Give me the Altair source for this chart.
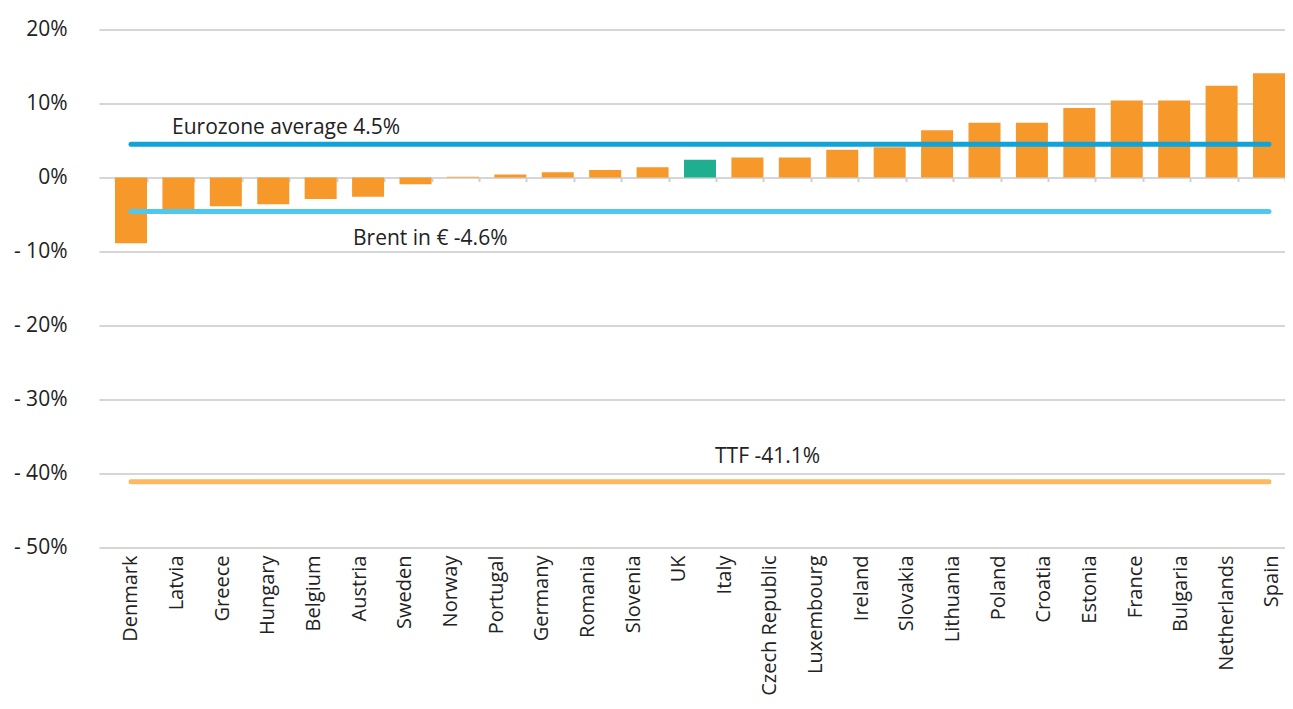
import altair as alt
import pandas as pd

# ---- data ----
countries = ["Denmark", "Latvia", "Greece", "Hungary", "Belgium", "Austria", "Sweden",
             "Norway", "Portugal", "Germany", "Romania", "Slovenia", "UK", "Italy",
             "Czech Republic", "Luxembourg", "Ireland", "Slovakia", "Lithuania", "Poland",
             "Croatia", "Estonia", "France", "Bulgaria", "Netherlands", "Spain"]
# the reference shows 25 bars for 26 labels: one label has no bar
changes = [-8.9, -4.3, -3.9, -3.6, -2.9, -2.6, -0.9, 0.1, 0.4, 0.7, 1.0, 1.4, 2.4, 2.7,
           2.7, 3.75, 4.1, None, 6.4, 7.4, 7.4, 9.4, 10.4, 10.4, 12.4, 14.1]
highlight = "UK"

ref_keys = ["Eurozone", "Brent", "TTF"]
ref_labels = ["Eurozone average 4.5%", "Brent in € -4.6%", "TTF -41.1%"]
ref_values = [4.5, -4.6, -41.1]
ref_colors = ["#0fa3d8", "#4fc8ef", "#fdb863"]

y_ticks = [-50, -40, -30, -20, -10, 0, 10, 20]

# ---- tables ----
bars_df = pd.DataFrame({"country": countries, "value": changes}).dropna()
bar_countries = list(bars_df["country"])

lines_df = pd.DataFrame(
    [{"key": k, "country": c, "value": v}
     for k, v in zip(ref_keys, ref_values)
     for c in (bar_countries[0], bar_countries[-1])]
)
text_df = pd.DataFrame({"key": ref_keys, "label": ref_labels, "value": ref_values,
                        "start": [bar_countries[0]] * len(ref_keys)})
labels_df = pd.DataFrame({"country": countries})

W, H = 1186, 518
FONT = "Open Sans"
TEXT_COLOR = "#222222"
NO_VIEW = alt.ViewBackground(stroke="transparent", strokeWidth=0)

y_scale = alt.Scale(domain=[-50, 20], nice=False, zero=False)
bar_x_scale = alt.Scale(domain=bar_countries, paddingInner=0.325, paddingOuter=0.1687, align=1)

y_axis = alt.Axis(values=y_ticks, title=None, domain=False, domainOpacity=0, ticks=False, tickSize=0,
                  labelExpr="datum.value < 0 ? '- ' + abs(datum.value) + '%' : datum.value + '%'",
                  labelFont=FONT, labelFontSize=21, labelColor=TEXT_COLOR, labelPadding=32,
                  gridColor="#d6d6d6", gridWidth=2)

bar_x_axis = alt.Axis(title=None, labels=False, domain=False, domainOpacity=0, grid=False,
                      gridOpacity=0, ticks=True, tickBand="extent", tickColor="#cfcfcf",
                      tickSize=4, tickWidth=2, orient="bottom", offset=-370)

bars = alt.Chart(bars_df).mark_bar().encode(
    x=alt.X("country:N", sort=bar_countries, scale=bar_x_scale, axis=bar_x_axis),
    y=alt.Y("value:Q", scale=y_scale, axis=y_axis),
    color=alt.condition(alt.datum.country == highlight, alt.value("#1fae8f"), alt.value("#f6992a")),
)

lines = alt.Chart(lines_df).mark_line(strokeWidth=5, strokeCap="round").encode(
    x=alt.X("country:N", sort=bar_countries),
    y=alt.Y("value:Q"),
    color=alt.Color("key:N", scale=alt.Scale(domain=ref_keys, range=ref_colors), legend=None),
    detail="key:N",
)

def ref_text(key, dx, dy):
    return alt.Chart(text_df).transform_filter(alt.datum.key == key).mark_text(
        align="left", baseline="alphabetic", dx=dx, dy=dy,
        font=FONT, fontSize=21, color=TEXT_COLOR,
    ).encode(
        x=alt.X("start:N", sort=bar_countries),
        y=alt.Y("value:Q"),
        text="label:N",
    )

texts = [ref_text("Eurozone", 41, -10), ref_text("Brent", 222, 33), ref_text("TTF", 584, -19)]

main = alt.layer(bars, lines, *texts).properties(view=NO_VIEW)

label_axis = alt.Axis(title=None, orient="bottom", labelAngle=270, labelFont=FONT,
                      labelFontSize=20, labelColor=TEXT_COLOR, labelPadding=7.5,
                      ticks=False, domain=False, domainOpacity=0, grid=False, gridOpacity=0,
                      labelOverlap=False)
label_layer = alt.Chart(labels_df).mark_point(opacity=0, strokeOpacity=0, fillOpacity=0).encode(
    x=alt.X("country:N", sort=countries,
            scale=alt.Scale(type="point", domain=countries, padding=0.493, align=0.711),
            axis=label_axis),
)

chart = alt.layer(main, label_layer).resolve_scale(x="independent").properties(
    width=W, height=H,
    padding={"left": 91, "top": 21.5, "right": 0, "bottom": 153.5},
    autosize=alt.AutoSizeParams(type="none"),
    view=NO_VIEW,
).configure_view(stroke="transparent", strokeWidth=0).configure_axis(
    domain=False, domainOpacity=0
).configure_axisY(domain=False, domainOpacity=0).configure_axisX(
    grid=False, gridOpacity=0, domain=False, domainOpacity=0
).configure(
    font=FONT, background="white", style={"cell": {"stroke": "transparent", "strokeWidth": 0}})

chart.save("out.html", embed_options={"renderer": "svg", "actions": False})
